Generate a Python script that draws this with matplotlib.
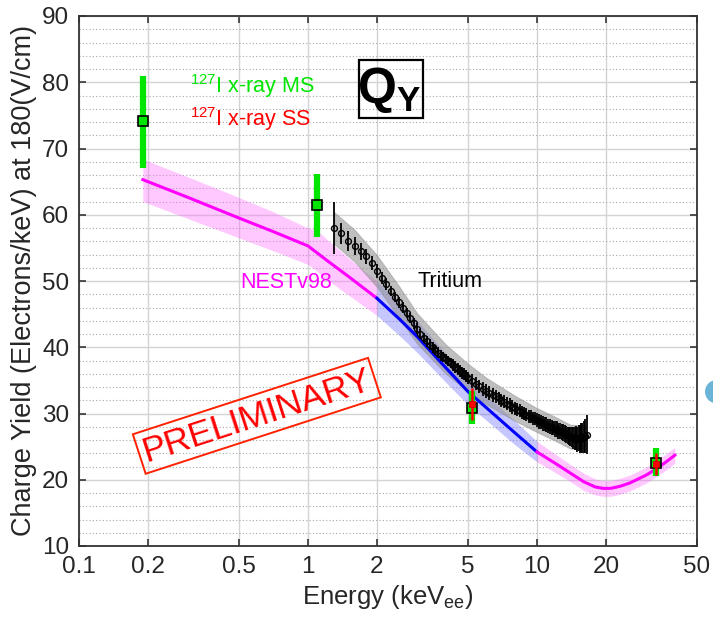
import numpy as np
import matplotlib
matplotlib.use('Agg')
import matplotlib.pyplot as plt
from matplotlib.ticker import FixedLocator, NullLocator, MultipleLocator
from matplotlib.patches import Rectangle, Circle

plt.rcParams['font.family'] = ['Liberation Sans', 'DejaVu Sans']
plt.rcParams['mathtext.fontset'] = 'custom'
plt.rcParams['mathtext.rm'] = 'Liberation Sans'
plt.rcParams['mathtext.bf'] = 'Liberation Sans:bold'

#####################################
# data
# 127I x-ray, multiple scatter (MS) and single scatter (SS)
ms_x = [0.19, 1.1, 5.2, 33.0]
ms_y = [74.2, 61.4, 30.8, 22.6]
ms_lo = [67.0, 56.6, 28.4, 20.6]
ms_hi = [81.0, 66.1, 33.4, 24.8]

ss_x = [5.2, 33.0]
ss_y = [31.4, 22.4]
ss_lo = [29.0, 20.7]
ss_hi = [33.8, 24.0]

# NESTv98 model with band
nest_x = [0.19, 0.3, 0.5, 0.7, 1.0, 1.1, 1.2, 1.5, 2.0, 2.5, 3.0, 4.0, 5.0, 6.0, 8.0,
          10.0, 12.0, 14.0, 16.0, 18.0, 19.5, 21.0, 23.0, 25.4, 30.0, 33.0, 36.0, 40.0]
nest_y = [65.3, 62.6, 59.5, 57.5, 55.3, 54.2, 53.2, 50.7, 47.4, 44.3, 41.6, 36.9, 33.3, 30.9, 27.1,
          24.2, 22.5, 21.0, 19.7, 18.9, 18.7, 18.7, 19.0, 19.5, 20.7, 21.6, 22.5, 23.7]
nest_hi = [68.4, 65.7, 62.6, 60.5, 58.0, 57.6, 56.4, 53.5, 50.0, 46.8, 44.0, 39.1, 35.3, 32.8, 28.9,
           25.8, 23.9, 22.3, 21.0, 20.1, 19.9, 19.9, 20.2, 20.7, 21.9, 22.8, 23.7, 24.9]
nest_lo = [62.0, 59.4, 56.5, 54.6, 52.5, 51.4, 50.3, 47.9, 44.8, 41.8, 39.2, 34.7, 31.3, 29.0, 25.3,
           22.7, 21.1, 19.7, 18.4, 17.7, 17.5, 17.5, 17.8, 18.3, 19.5, 20.4, 21.3, 22.5]

# tritium data
tri_x = [1.3, 1.4, 1.5, 1.6, 1.7, 1.8, 1.9, 2.0, 2.1, 2.2, 2.3, 2.4, 2.5, 2.6, 2.7, 2.8, 2.9, 3.0,
         3.1, 3.2, 3.3, 3.4, 3.5, 3.6, 3.7, 3.8, 3.9, 4.0, 4.1, 4.2, 4.3, 4.4, 4.5, 4.6, 4.7, 4.8,
         4.9, 5.0,
         5.2, 5.4, 5.6, 5.8, 6.0, 6.2, 6.4, 6.6, 6.8, 7.0, 7.2, 7.4, 7.6, 7.8, 8.0, 8.2, 8.4, 8.6,
         8.8, 9.0, 9.2, 9.4, 9.6, 9.8, 10.0, 10.2, 10.4, 10.6, 10.8, 11.0, 11.2, 11.4, 11.6, 11.8,
         12.0, 12.2, 12.4, 12.6, 12.8, 13.0, 13.2, 13.4, 13.6, 13.8, 14.0, 14.2, 14.4, 14.6, 14.8,
         15.0, 15.2, 15.4, 15.6, 15.8, 16.0, 16.2, 16.5]
tri_y = [58.0, 57.2, 56.1, 55.3, 54.5, 53.7, 52.7, 51.5, 50.5, 49.5, 48.5, 47.6, 46.8, 46.0,
         45.2, 44.4, 43.6, 42.8, 42.0, 41.4, 40.9, 40.4, 40.0, 39.6, 39.2, 38.8, 38.5, 38.2,
         37.9, 37.6, 37.3, 37.0, 36.7, 36.4, 36.1, 35.9, 35.6, 35.4,
         34.9, 34.5, 34.1, 33.7, 33.4, 33.1, 32.8, 32.6, 32.3, 32.0, 31.8, 31.5, 31.3, 31.0,
         30.8, 30.6, 30.4, 30.2, 30.0, 29.8, 29.6, 29.5, 29.3, 29.2, 29.0, 28.8, 28.7, 28.5,
         28.4, 28.3, 28.1, 28.0, 27.9, 27.8, 27.7, 27.6, 27.4, 27.3, 27.2, 27.1, 27.0, 26.8,
         26.7, 26.6, 26.5, 26.4, 26.3, 26.2, 26.3, 26.1, 26.3, 26.2, 26.4, 26.3, 26.5, 26.6, 26.8]
tri_err = [3.9, 1.6, 1.5, 1.4, 1.3, 1.2, 1.1, 1.0, 0.9, 0.9, 0.8, 0.8, 0.8, 0.8, 0.8, 0.8,
           0.8, 0.8, 0.8, 0.8, 0.8, 0.8, 0.8, 0.8, 0.8, 0.8, 0.8, 0.8, 0.8, 0.8, 0.9, 0.9,
           0.9, 0.9, 0.9, 0.9, 0.9, 0.9,
           1.0, 1.0, 1.0, 1.0, 1.0, 1.0, 1.0, 1.0, 1.0, 1.0, 1.0, 1.0, 1.0, 1.0, 1.0, 1.0,
           1.0, 1.0, 1.0, 1.0, 1.0, 1.0, 1.0, 1.0,
           1.1, 1.1, 1.1, 1.1, 1.1, 1.1, 1.1, 1.1, 1.1, 1.1,
           1.2, 1.2, 1.2, 1.2, 1.2, 1.3, 1.3, 1.3, 1.3, 1.3,
           1.4, 1.5, 1.6, 1.7, 1.8, 1.9, 2.0, 2.1, 2.2, 2.3, 2.4, 2.6, 2.9]

# tritium systematic band
tband_x = [1.3, 1.6, 2.0, 2.5, 3.0, 4.0, 5.0, 6.0, 8.0, 10.0, 12.0, 14.0, 16.3]
tband_lo = [55.6, 52.9, 49.1, 44.4, 40.5, 36.0, 33.3, 31.4, 28.9, 27.2, 25.9, 24.7, 24.8]
tband_hi = [60.4, 57.7, 53.9, 49.2, 45.1, 40.4, 37.5, 35.4, 32.7, 30.8, 29.5, 28.3, 28.2]

x_ticks = [0.1, 0.2, 0.5, 1, 2, 5, 10, 20, 50]
x_ticklabels = ['0.1', '0.2', '0.5', '1', '2', '5', '10', '20', '50']

#####################################
# colours
green = '#00e600'
red = '#ff0000'
magenta = '#ff00ff'
blue = '#0000ff'

fig = plt.figure(figsize=(7.13, 6.2), dpi=100)
ax = fig.add_axes([79/713, 74/620, 618/713, 530/620])

ax.set_xscale('log')
ax.set_xlim(0.1, 50)
ax.set_ylim(10, 90)

# grid
ax.xaxis.set_major_locator(FixedLocator(x_ticks))
ax.xaxis.set_minor_locator(NullLocator())
ax.set_xticklabels(x_ticklabels)
ax.yaxis.set_major_locator(MultipleLocator(10))
ax.yaxis.set_minor_locator(MultipleLocator(2))
ax.grid(True, which='major', color='#d4d4d4', lw=1.0, zorder=0)
ax.grid(True, which='minor', axis='y', color='#a8a8a8', lw=0.8, ls=(0, (1, 2)), zorder=0)
ax.set_axisbelow(True)

ax.tick_params(which='major', direction='in', length=5, width=1.1, top=True, right=True,
               labelsize=17.5, colors='#262626', pad=7)
ax.tick_params(which='minor', length=0)
for s in ax.spines.values():
    s.set_color('#333333')
    s.set_linewidth(1.3)

# NEST model: pink below 2 keV and above 10 keV, blue between
nx = np.array(nest_x)
ny = np.array(nest_y)
nlo = np.array(nest_lo)
nhi = np.array(nest_hi)
segs = [(nx <= 2.0, magenta, '#ff66ff'), ((nx >= 2.0) & (nx <= 10.0), blue, '#6060ff'),
        (nx >= 10.0, magenta, '#ff66ff')]
for m, lc, bc in segs:
    ax.fill_between(nx[m], nlo[m], nhi[m], color=bc, alpha=0.35, lw=0, zorder=2)
    ax.plot(nx[m], ny[m], color=lc, lw=2.2, zorder=4)

# tritium
ax.fill_between(tband_x, tband_lo, tband_hi, color='#8c8c8c', alpha=0.55, lw=0.8,
                edgecolor='#9a9a9a', zorder=3)
ax.errorbar(tri_x, tri_y, yerr=tri_err, fmt='o', ms=4.2, mfc='none', mec='black', mew=1.0,
            ecolor='black', elinewidth=1.3, capsize=0, zorder=5)

# 127I x-ray points
ms_err = [np.array(ms_y) - np.array(ms_lo), np.array(ms_hi) - np.array(ms_y)]
ax.errorbar(ms_x, ms_y, yerr=ms_err, fmt='s', ms=7.5, mfc=green, mec='black', mew=1.2,
            ecolor=green, elinewidth=4.5, capsize=0, zorder=6)
ss_err = [np.array(ss_y) - np.array(ss_lo), np.array(ss_hi) - np.array(ss_y)]
ax.errorbar(ss_x, ss_y, yerr=ss_err, fmt='s', ms=5, mfc=red, mec='#cc0000', mew=0.6,
            ecolor=red, elinewidth=1.8, capsize=0, zorder=7)

# annotations
ax.text(0.305, 78.4, r'$^{127}$I x-ray MS', color=green, fontsize=15.5, va='baseline', ha='left')
ax.text(0.305, 73.4, r'$^{127}$I x-ray SS', color=red, fontsize=15.5, va='baseline', ha='left')
ax.text(0.505, 48.9, 'NESTv98', color=magenta, fontsize=15.5, va='baseline', ha='left')
ax.text(3.02, 49.05, 'Tritium', color='black', fontsize=15.5, va='baseline', ha='left')

ax.add_patch(Rectangle((1.67, 74.6), 3.18 - 1.67, 83.4 - 74.6, fill=False, ec='black', lw=1.6, zorder=8))
ax.text(2.26, 78.9, r'$\mathbf{Q_Y}$', fontsize=36, ha='center', va='center', zorder=9)

ax.text(0.598, 29.65, 'PRELIMINARY', color=red, fontsize=25.5, rotation=18,
        rotation_mode='anchor', ha='center', va='center', zorder=9,
        bbox=dict(boxstyle='square,pad=0.12', fc='none', ec='#ff2200', lw=1.4))

ax.set_xlabel(r'Energy (keV$_{\mathrm{ee}}$)', fontsize=18.5, color='#262626', labelpad=4)
ax.set_ylabel('Charge Yield (Electrons/keV) at 180(V/cm)', fontsize=19.5, color='#262626', labelpad=4)

# slide decoration at the right edge
fig.patches.append(Circle((7.167, 2.283), 0.117, transform=fig.dpi_scale_trans,
                          fc='#6ab4d8', ec='none'))

fig.savefig('out.png', dpi=100)
